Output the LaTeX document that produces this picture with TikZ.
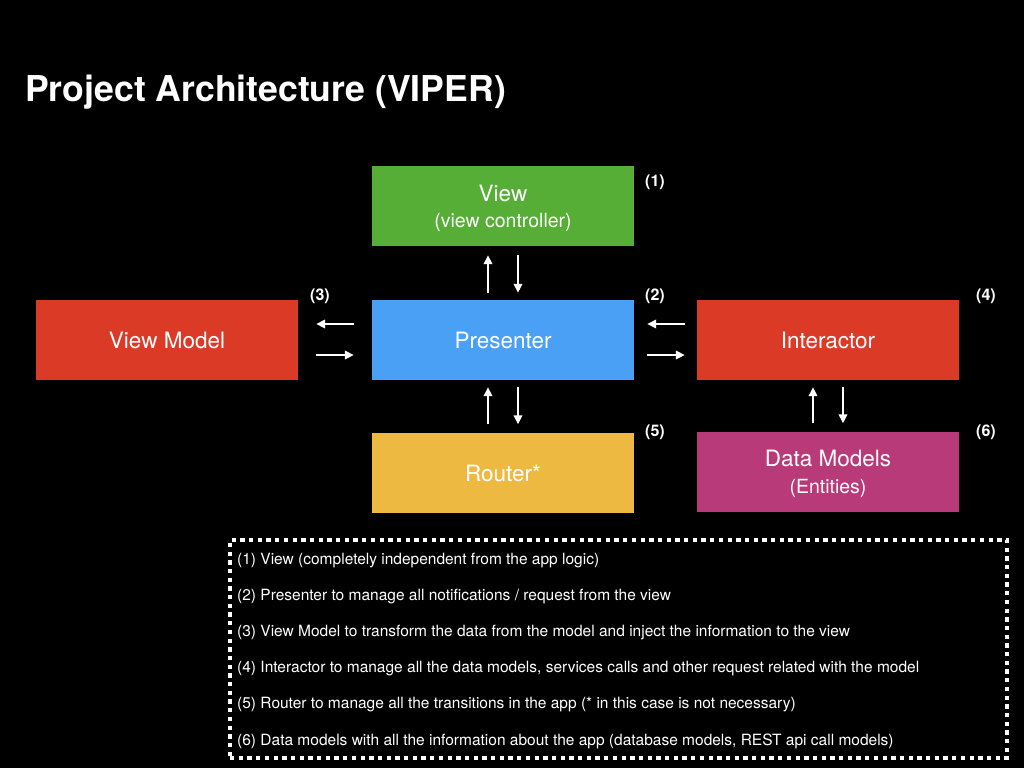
\documentclass[tikz,border=0pt]{standalone}
\usepackage{fontspec}
\setmainfont{TeX Gyre Heros}
\usetikzlibrary{arrows.meta}
\definecolor{cgreen}{RGB}{86,174,55}
\definecolor{cblue}{RGB}{74,160,245}
\definecolor{cred}{RGB}{219,59,38}
\definecolor{cyellow}{RGB}{238,185,64}
\definecolor{cmagenta}{RGB}{185,58,120}
\begin{document}
\begin{tikzpicture}[x=1pt,y=-1pt,
  block/.style={minimum width=262pt, minimum height=80pt, inner sep=0pt, text=white, align=center,
    font=\fontsize{22.5}{26}\selectfont},
  oneline/.style={text height=17pt, text depth=0pt},
  tag/.style={text=white, inner sep=0pt, font=\fontsize{16}{18}\selectfont\bfseries},
  arr/.style={white, line width=1.8pt, -{Triangle[length=9pt,width=8.5pt]}},
  legendline/.style={anchor=base west, inner sep=0pt, text=white, font=\fontsize{15.5}{18}\selectfont}
]
\fill[black] (0,0) rectangle (1024,768);
\useasboundingbox (0,0) rectangle (1024,768);

\node[anchor=base west, inner sep=0pt, text=white, font=\fontsize{35.6}{42}\selectfont\bfseries] (title) at (25,101) {Project Architecture (VIPER)};

\node[block, fill=cgreen] (view) at (503,206) {\rule{0pt}{21.5pt}View\\[0.5pt]{\fontsize{19.5}{24}\selectfont(view controller)}};
\node[block, oneline, fill=cblue] (presenter) at (503,339.5) {Presenter};
\node[block, oneline, fill=cred] (viewmodel) at (167,339.5) {View Model};
\node[block, oneline, fill=cred] (interactor) at (828,339.5) {Interactor};
\node[block, oneline, fill=cyellow] (router) at (503,472.5) {Router*};
\node[block, fill=cmagenta] (data) at (828,471.5) {\rule{0pt}{21.5pt}Data Models\\[0.5pt]{\fontsize{19.5}{24}\selectfont(Entities)}};

\node[tag] (t1) at (655,182) {(1)};
\node[tag] (t3) at (320,296) {(3)};
\node[tag] (t2) at (655,296) {(2)};
\node[tag] (t4) at (986,296) {(4)};
\node[tag] (t5) at (655,432) {(5)};
\node[tag] (t6) at (986,432) {(6)};

% View <-> Presenter
\draw[arr, shorten <=6.5pt, shorten >=9pt] ([xshift=-15pt]presenter.north) -- ([xshift=-15pt]view.south);
\draw[arr, shorten <=9pt, shorten >=6.5pt] ([xshift=15pt]view.south) -- ([xshift=15pt]presenter.north);
% View Model <-> Presenter
\draw[arr, shorten <=18pt, shorten >=18pt] ([yshift=15.5pt]presenter.west) -- ([yshift=15.5pt]viewmodel.east);
\draw[arr, shorten <=18pt, shorten >=18pt] ([yshift=-15.5pt]viewmodel.east) -- ([yshift=-15.5pt]presenter.west);
% Interactor <-> Presenter
\draw[arr, shorten <=12pt, shorten >=13pt] ([yshift=15.5pt]interactor.west) -- ([yshift=15.5pt]presenter.east);
\draw[arr, shorten <=13pt, shorten >=12pt] ([yshift=-15.5pt]presenter.east) -- ([yshift=-15.5pt]interactor.west);
% Router <-> Presenter
\draw[arr, shorten <=8pt, shorten >=7.5pt] ([xshift=-15pt]router.north) -- ([xshift=-15pt]presenter.south);
\draw[arr, shorten <=7.5pt, shorten >=8pt] ([xshift=15pt]presenter.south) -- ([xshift=15pt]router.north);
% Data Models <-> Interactor
\draw[arr, shorten <=8pt, shorten >=7.5pt] ([xshift=-15pt]data.north) -- ([xshift=-15pt]interactor.south);
\draw[arr, shorten <=7.5pt, shorten >=8pt] ([xshift=15pt]interactor.south) -- ([xshift=15pt]data.north);

\node[draw=white, line width=4pt, dash pattern=on 4.3pt off 4.4pt, minimum width=777pt, minimum height=218pt, inner sep=0pt] (legend) at (618.5,649) {};

\node[legendline] (l1) at (237,564) {(1) View (completely independent from the app logic)};
\node[legendline] (l2) at (237,600.2) {(2) Presenter to manage all notifications / request from the view};
\node[legendline] (l3) at (237,636.4) {(3) View Model to transform the data from the model and inject the information to the view};
\node[legendline] (l4) at (237,672.6) {(4) Interactor to manage all the data models, services calls and other request related with the model};
\node[legendline] (l5) at (237,708.8) {(5) Router to manage all the transitions in the app (* in this case is not necessary)};
\node[legendline] (l6) at (237,745) {(6) Data models with all the information about the app (database models, REST api call models)};
\end{tikzpicture}
\end{document}
